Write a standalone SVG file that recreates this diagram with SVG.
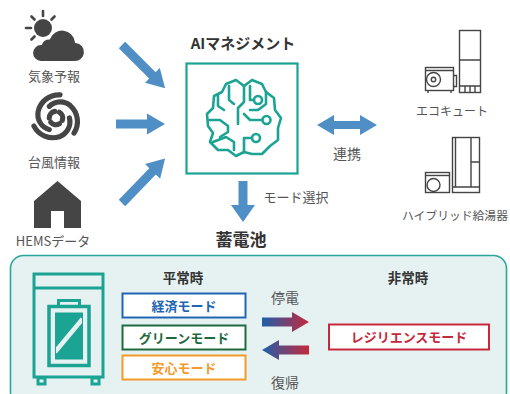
<svg xmlns="http://www.w3.org/2000/svg" width="510" height="394" viewBox="0 0 510 394">
  <style>
    text { font-family: "Noto Sans CJK JP", "Noto Sans", sans-serif; }
    .lbl { fill: #555; text-anchor: middle; }
    .ttl { font-weight: bold; fill: #333; text-anchor: middle; }
    .mode { font-weight: bold; text-anchor: middle; }
    .icon { fill: #454545; }
    .line { fill: #fff; stroke: #444; stroke-width: 1.4; }
    .thin { fill: none; stroke: #444; stroke-width: 1.4; }
    .teal { fill: none; stroke: #1ba394; stroke-width: 2.6; stroke-linejoin: round; stroke-linecap: round; }
    .blue-arrow { fill: #4f8fc6; }
  </style>
  <defs>
    <linearGradient id="rb" x1="0" y1="0" x2="1" y2="0">
      <stop offset="0" stop-color="#1d5fa9"/>
      <stop offset="1" stop-color="#c6283c"/>
    </linearGradient>
  </defs>

  <rect width="510" height="394" fill="#fff"/>

  <!-- weather forecast -->
  <g id="weather">
    <g stroke="#454545" stroke-width="2.6" stroke-linecap="round">
      <line x1="43" y1="11" x2="43" y2="16"/>
      <line x1="31.5" y1="16.5" x2="34.5" y2="19.5"/>
      <line x1="26" y1="28" x2="31" y2="28"/>
      <line x1="31.5" y1="39.5" x2="34.5" y2="36.5"/>
      <line x1="54.5" y1="16.5" x2="51.5" y2="19.5"/>
    </g>
    <circle class="icon" cx="43" cy="28" r="9"/>
    <path class="icon" stroke="#fff" stroke-width="2.2" d="M41,62 A9,9 0 0 1 41,44 A9,9 0 0 1 49,38.5 A14,14 0 0 1 76,42 A10,10 0 0 1 74,62 Z"/>
    <text class="lbl" x="54" y="81" font-size="13">気象予報</text>
  </g>

  <!-- typhoon information: spiral arms -->
  <g id="typhoon">
    <g fill="none" stroke="#454545" stroke-width="4.6" stroke-linecap="round" transform="translate(56 118) scale(1.12) translate(-56 -118)">
      <path id="arm" d="M68,118 A14,14 0 0 1 58.96,134.7 A19,19 0 0 1 36.3,125.2"/>
      <use href="#arm" transform="rotate(120 56 118)"/>
      <use href="#arm" transform="rotate(240 56 118)"/>
      <path id="core" d="M50,118 A6,6 0 0 1 54.96,112.1"/>
      <use href="#core" transform="rotate(120 56 118)"/>
      <use href="#core" transform="rotate(240 56 118)"/>
    </g>
    <text class="lbl" x="54" y="167" font-size="13">台風情報</text>
  </g>

  <!-- HEMS data -->
  <g id="hems">
    <path class="icon" d="M57.5,181 L81,201 L81,228 L64,228 L64,211 L51,211 L51,228 L34,228 L34,201 Z"/>
    <text class="lbl" x="53" y="246" font-size="13">HEMSデータ</text>
  </g>

  <!-- AI management -->
  <g id="ai">
    <text class="ttl" x="243" y="49" font-size="15">AIマネジメント</text>
    <rect x="186.5" y="63.5" width="111" height="110" fill="#fff" stroke="#1ba394" stroke-width="2.2"/>
    <g class="teal">
      <path d="M244,86 L236,80 L226,84 L222,92 L214,96 L213,108 L207,114 L208,126 L213,133 L210,142 L218,150 L228,150 L236,156 L244,152"/>
      <path d="M244,86 L252,80 L262,84 L266,92 L274,98 L275,110 L281,118 L278,128 L278,140 L270,146 L262,154 L252,154 L244,152"/>
      <path d="M244,86 L244,102 L238,108 L238,124"/>
      <path d="M229,86 L229,100 L234,104"/>
      <path d="M218,96 L218,106 L224,110"/>
      <path d="M209,120 L220,120 L228,126 L228,132 L220,137"/>
      <path d="M213,142 L226,137 L234,142 L234,150"/>
      <path d="M244,152 L244,138 L252,138"/>
      <path d="M244,114 L250,120 L262,120"/>
      <path d="M250,86 L250,100 L254,100"/>
      <path d="M266,92 L266,104 L258,110 L250,110"/>
      <circle cx="258" cy="100" r="4"/>
      <circle cx="266.5" cy="120" r="4"/>
      <circle cx="256" cy="138" r="4"/>
    </g>
  </g>

  <!-- EcoCute -->
  <g id="ecocute">
    <rect class="line" x="459.5" y="30.5" width="21" height="62"/>
    <path class="thin" d="M459.5,60 L480.5,60 M459.5,86 L480.5,86 M465,86 V92.5 M470,86 V92.5 M475,86 V92.5"/>
    <rect class="line" x="425.5" y="67.5" width="28" height="23"/>
    <path class="thin" d="M425.5,70.5 H453.5 M453.5,75.5 H456.5 V86.5 H453.5 M428,90.5 V93 M451,90.5 V93"/>
    <circle class="thin" cx="433.5" cy="79.5" r="7"/>
    <circle class="thin" cx="433.5" cy="79.5" r="2.2"/>
    <text class="lbl" x="452" y="116" font-size="12">エコキュート</text>
  </g>

  <!-- hybrid water heater -->
  <g id="hybrid">
    <rect class="line" x="452.5" y="137.5" width="27" height="55"/>
    <path class="thin" d="M471,137.5 V187 M471,162 H479.5 M455.5,137.5 V187 M452.5,187 H479.5"/>
    <rect class="line" x="425.5" y="172.5" width="24" height="20"/>
    <path class="thin" d="M425.5,175.5 H449.5"/>
    <circle class="thin" cx="433.5" cy="185" r="6.5"/>
    <text class="lbl" x="455" y="220" font-size="11.8">ハイブリッド給湯器</text>
  </g>

  <!-- storage battery -->
  <g id="battery">
    <text class="ttl" x="241" y="246" font-size="17">蓄電池</text>
    <rect x="10.5" y="255.5" width="496" height="150" rx="13" fill="#e6f2f1" stroke="#2aa79a" stroke-width="1.6"/>
    <g fill="none" stroke="#1ba394" stroke-width="3">
      <rect x="34" y="274" width="69" height="103"/>
      <line x1="34" y1="288" x2="103" y2="288"/>
      <rect x="38" y="378" width="7" height="6"/>
      <rect x="92" y="378" width="7" height="6"/>
      <rect x="58.5" y="300.5" width="21" height="6"/>
      <rect x="49" y="306.5" width="40" height="59" stroke-width="3.5"/>
    </g>
    <rect x="55.5" y="313" width="27" height="46" fill="#1ba394"/>
    <line x1="55" y1="352" x2="82.5" y2="319" stroke="#e6f2f1" stroke-width="4.5"/>
    <rect x="55.5" y="313" width="27" height="46" fill="none" stroke="#1ba394" stroke-width="1"/>
  </g>

  <!-- normal-time modes -->
  <g id="normal">
    <text class="ttl" x="183" y="283" font-size="13.5">平常時</text>
    <rect x="122.5" y="293.5" width="123" height="24" fill="#fff" stroke="#1e66b4" stroke-width="2"/>
    <text class="mode" x="184" y="310.5" font-size="13" fill="#1e66b4">経済モード</text>
    <rect x="122.5" y="325.5" width="123" height="24" fill="#fff" stroke="#1e6a3e" stroke-width="2"/>
    <text class="mode" x="184" y="342.5" font-size="13" fill="#1e6a3e">グリーンモード</text>
    <rect x="122.5" y="355.5" width="123" height="24" fill="#fff" stroke="#f39a2c" stroke-width="2"/>
    <text class="mode" x="184" y="372.5" font-size="13" fill="#f39a2c">安心モード</text>
  </g>

  <!-- emergency mode -->
  <g id="emergency">
    <text class="ttl" x="408" y="283" font-size="13.5">非常時</text>
    <rect x="329" y="324.5" width="160" height="25" fill="#fff" stroke="#c6283c" stroke-width="2"/>
    <text class="mode" x="409" y="342" font-size="13" fill="#c6283c">レジリエンスモード</text>
    <text class="lbl" x="285" y="303" font-size="14">停電</text>
    <text class="lbl" x="285" y="388" font-size="14">復帰</text>
  </g>

  <!-- connectors -->
  <g id="connectors">
    <g class="blue-arrow">
      <polygon transform="translate(122 45) rotate(45)" points="0,-4.5 43,-4.5 43,-10.5 61,0 43,10.5 43,4.5 0,4.5"/>
      <polygon transform="translate(116 124)" points="0,-4.5 31,-4.5 31,-10.5 49,0 31,10.5 31,4.5 0,4.5"/>
      <polygon transform="translate(122 203) rotate(-46)" points="0,-4.5 44,-4.5 44,-10.5 62,0 44,10.5 44,4.5 0,4.5"/>
      <polygon points="238.5,181 247.5,181 247.5,205 255,205 243,222 231,205 238.5,205"/>
      <polygon points="317,125 334,115 334,121 360,121 360,115 377,125 360,135 360,129 334,129 334,135"/>
    </g>
    <text class="lbl" x="347" y="159" font-size="14">連携</text>
    <text class="lbl" x="296" y="202" font-size="13">モード選択</text>
    <polygon fill="url(#rb)" points="262,317.5 292,317.5 292,312 309,322 292,332 292,326.5 262,326.5"/>
    <polygon fill="url(#rb)" points="309,345.5 279,345.5 279,340 262,350 279,360 279,354.5 309,354.5"/>
  </g>
</svg>
